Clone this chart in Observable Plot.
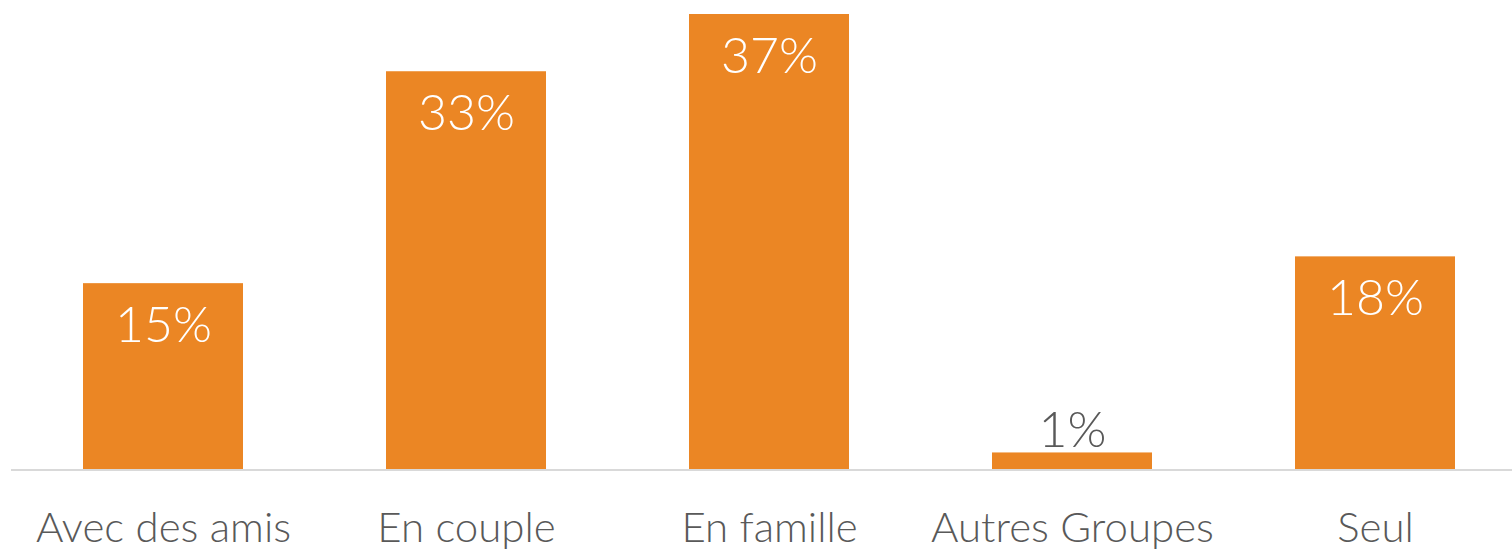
<!DOCTYPE html>
<html>
<head>
<meta charset="utf-8">
<script src="https://cdn.jsdelivr.net/npm/d3@7"></script>
<script src="https://cdn.jsdelivr.net/npm/@observablehq/plot@0.6"></script>
<style>
  html, body { margin: 0; padding: 0; background: #fff; }
  #chart svg { display: block; }
</style>
</head>
<body>
<div id="chart"></div>
<script>
const categories = ["Avec des amis", "En couple", "En famille", "Autres Groupes", "Seul"];
const values = [15.3, 32.7, 37.4, 1.4, 17.5];

const data = categories.map((c, i) => ({category: c, value: values[i]}));
const fmt = d => `${Math.round(d.value)}%`;
const font = "Lato, 'Noto Sans', sans-serif";

const chart = Plot.plot({
  width: 1512,
  height: 550,
  marginLeft: 11,
  marginRight: 0,
  marginTop: 0,
  marginBottom: 80.5,
  style: {fontFamily: font, background: "#fff"},
  x: {domain: categories, range: [11, 1527.25], paddingInner: 0.4724, paddingOuter: 0.2362, label: null},
  y: {domain: [0, 37.4], range: [469.5, 14], axis: null},
  marks: [
    Plot.barY(data, {x: "category", y: "value", fill: "#EB8624"}),
    Plot.ruleY([0], {stroke: "#D9D9D9", strokeWidth: 2}),
    Plot.text(data.filter(d => d.value >= 5), {
      x: "category", y: "value", text: fmt, lineAnchor: "top", dy: 23,
      fill: "#fff", fontSize: 50, fontWeight: 300
    }),
    Plot.text(data.filter(d => d.value < 5), {
      x: "category", y: "value", text: fmt, lineAnchor: "bottom", dy: -6,
      fill: "#595959", fontSize: 50, fontWeight: 300
    }),
    Plot.axisX({tickSize: 0, tickPadding: 42, fontSize: 42, fill: "#595959", fontWeight: 300, label: null})
  ]
});
document.getElementById("chart").append(chart);
</script>
</body>
</html>
